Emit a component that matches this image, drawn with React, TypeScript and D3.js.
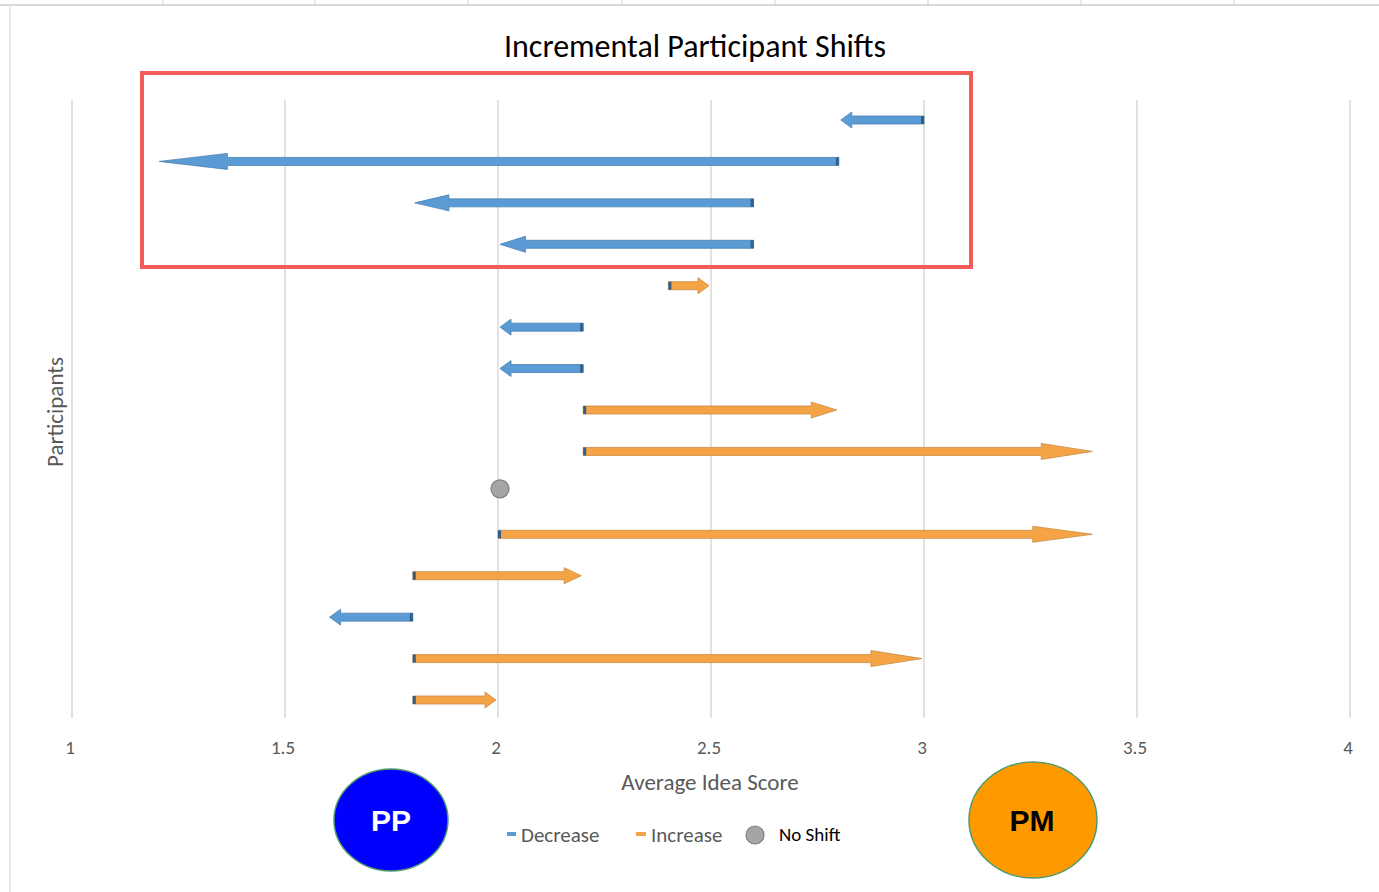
import React from "react";
import * as d3 from "d3";

const participants = ["P1","P2","P3","P4","P5","P6","P7","P8","P9","P10","P11","P12","P13","P14","P15"];
const startScores = [3.0, 2.8, 2.6, 2.6, 2.4, 2.2, 2.2, 2.2, 2.2, 2.0, 2.0, 1.8, 1.8, 1.8, 1.8];
const endScores   = [2.8, 1.2, 1.8, 2.0, 2.5, 2.0, 2.0, 2.8, 3.4, 2.0, 3.4, 2.2, 1.6, 3.0, 2.0];
const xTicks = [1, 1.5, 2, 2.5, 3, 3.5, 4];
const topTicks = [163, 315, 468, 622, 775, 928, 1081, 1234];

const W = 1379, H = 892;
const BLUE = "#5b9bd5", BLUE_EDGE = "#4a7fb0", ORANGE = "#f5a445", ORANGE_EDGE = "#c98a45", CAP = "#2f5f8c";

export default function App() {
  const x = d3.scaleLinear().domain([1, 4]).range([72, 1350]);
  const y = d3.scaleLinear().domain([0, participants.length - 1]).range([120, 700]);

  const arrowPath = (x0: number, x1: number, cy: number) => {
    const dx = x1 - x0;
    const dir = Math.sign(dx);
    const tip = x1 - dir * 2;
    const head = Math.max(Math.abs(dx) * 0.1, 11);
    const sh = 4, hh = 8;
    const xb = tip - dir * head;
    const p = d3.path();
    p.moveTo(x0, cy - sh);
    p.lineTo(xb, cy - sh);
    p.lineTo(xb, cy - hh);
    p.lineTo(tip, cy);
    p.lineTo(xb, cy + hh);
    p.lineTo(xb, cy + sh);
    p.lineTo(x0, cy + sh);
    p.closePath();
    return p.toString();
  };

  const font = "Calibri, Carlito, 'Open Sans', sans-serif";

  return (
    <svg width={W} height={H} style={{ position: "absolute", left: 0, top: 0, background: "#fff" }}>
      {/* frame */}
      <line x1={0} x2={W} y1={5} y2={5} stroke="#d9d9d9" strokeWidth={2} />
      {topTicks.map((t) => (
        <line key={t} x1={t} x2={t} y1={0} y2={6} stroke="#d0d0d0" strokeWidth={1} />
      ))}
      <line x1={10} x2={10} y1={5} y2={H} stroke="#e2e2e2" strokeWidth={1.5} />

      {/* title */}
      <text x={695} y={57} textAnchor="middle" fontFamily={font} fontSize={32} fill="#000">
        Incremental Participant Shifts
      </text>

      {/* grid */}
      {xTicks.map((t) => (
        <g key={t}>
          <line x1={x(t)} x2={x(t)} y1={100} y2={718} stroke="#d9d9d9" strokeWidth={1.5} />
          <text x={x(t) - 2} y={754} textAnchor="middle" fontFamily={font} fontSize={19} fill="#595959">
            {String(t)}
          </text>
        </g>
      ))}

      {/* arrows */}
      {participants.map((p, i) => {
        const s = startScores[i], e = endScores[i];
        const cy = y(i);
        if (s === e) {
          return <circle key={p} cx={x(s) + 2} cy={cy - 4} r={9} fill="#a5a5a5" stroke="#808080" strokeWidth={1.2} />;
        }
        const dec = e < s;
        const x0 = x(s), x1 = x(e);
        const dir = Math.sign(x1 - x0);
        return (
          <g key={p}>
            <path d={arrowPath(x0, x1, cy)} fill={dec ? BLUE : ORANGE} stroke={dec ? BLUE_EDGE : ORANGE_EDGE} strokeWidth={0.8} />
            <rect x={dir > 0 ? x0 : x0 - 3} y={cy - 4} width={3} height={8} fill={CAP} />
          </g>
        );
      })}

      {/* axis titles */}
      <text x={710} y={790} textAnchor="middle" fontFamily={font} fontSize={23} fill="#595959">
        Average Idea Score
      </text>
      <text transform="translate(63,412) rotate(-90)" textAnchor="middle" fontFamily={font} fontSize={23} fill="#595959">
        Participants
      </text>

      {/* legend */}
      <rect x={507} y={832} width={9} height={4} fill={BLUE} />
      <text x={521} y={842} fontFamily={font} fontSize={21} fill="#595959">Decrease</text>
      <rect x={636} y={832} width={10} height={4} fill={ORANGE} />
      <text x={651} y={842} fontFamily={font} fontSize={21} fill="#595959">Increase</text>
      <circle cx={755} cy={835} r={9} fill="#a5a5a5" stroke="#808080" strokeWidth={1.2} />
      <text x={779} y={841} fontFamily={font} fontSize={19} fill="#000">No Shift</text>

      {/* highlight box */}
      <rect x={142} y={73} width={829} height={194} fill="none" stroke="#f45b5b" strokeWidth={4} />

      {/* PP / PM */}
      <ellipse cx={391} cy={820} rx={57} ry={51} fill="#0000ff" stroke="#4f9a6c" strokeWidth={1.5} />
      <text x={391} y={831} textAnchor="middle" fontFamily="'Liberation Sans', Arial, sans-serif" fontWeight="bold" fontSize={30} fill="#fff">PP</text>
      <ellipse cx={1033} cy={820} rx={64} ry={58} fill="#ff9900" stroke="#4f9a6c" strokeWidth={1.5} />
      <text x={1032} y={831} textAnchor="middle" fontFamily="'Liberation Sans', Arial, sans-serif" fontWeight="bold" fontSize={30} fill="#000">PM</text>
    </svg>
  );
}
